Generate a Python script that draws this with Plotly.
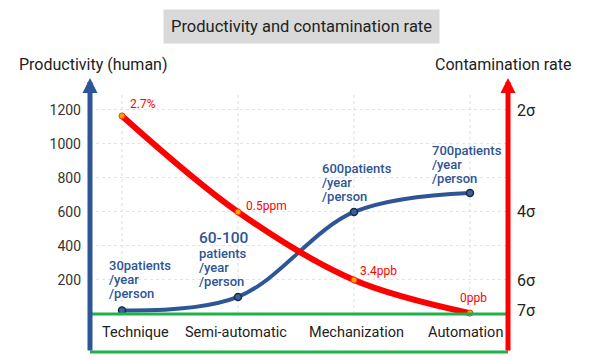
import plotly.graph_objects as go

categories = ["Technique", "Semi-automatic", "Mechanization", "Automation"]
productivity = [20, 100, 600, 712]
contamination = [1165, 600, 200, 5]
prod_labels = [["30patients", "/year", "/person"],
               ["60-100", "patients", "/year", "/person"],
               ["600patients", "/year", "/person"],
               ["700patients", "/year", "/person"]]
cont_labels = ["2.7%", "0.5ppm", "3.4ppb", "0ppb"]
left_ticks = [200, 400, 600, 800, 1000, 1200]
right_tickvals = [1200, 606, 200, 18]
right_ticktext = ["2σ", "4σ", "6σ", "7σ"]

BLUE = "#2e5596"
RED = "#ff0000"
GREEN = "#1fb24a"
FONT = "Roboto"

x_idx = list(range(len(categories)))
yr = [-224, 1388]

fig = go.Figure()
fig.add_trace(go.Scatter(
    x=x_idx, y=productivity, mode="lines+markers",
    line=dict(color=BLUE, width=4, shape="spline", smoothing=1),
    marker=dict(size=7, color="#3d5f9e", line=dict(color="#1b2a45", width=1.5)),
    hoverinfo="skip", showlegend=False))
fig.add_trace(go.Scatter(
    x=x_idx, y=contamination, mode="lines+markers",
    line=dict(color=RED, width=6, shape="spline", smoothing=1),
    marker=dict(size=6, color="#ffa500", line=dict(color="#ff3300", width=1)),
    hoverinfo="skip", showlegend=False))
# invisible trace to create the right axis
fig.add_trace(go.Scatter(x=[x_idx[0]], y=[contamination[0]], yaxis="y2",
                         mode="markers", marker=dict(opacity=0),
                         hoverinfo="skip", showlegend=False))

shapes = []
for i in x_idx:
    shapes.append(dict(type="line", xref="x", yref="y", x0=i, x1=i, y0=0, y1=1290,
                       line=dict(color="#dddddd", width=1, dash="dot"), layer="below"))
shapes.append(dict(type="line", xref="paper", yref="paper", x0=0, x1=1, y0=0, y1=0,
                   line=dict(color=GREEN, width=3)))
shapes.append(dict(type="line", xref="paper", yref="y", x0=0, x1=1, y0=0, y1=0,
                   line=dict(color=GREEN, width=3)))

annotations = []
# axis arrows
annotations.append(dict(xref="paper", yref="paper", x=0, y=1, ax=0, ay=274,
                        showarrow=True, arrowhead=2,
                        arrowsize=0.6, arrowwidth=5, arrowcolor=BLUE, text=""))
annotations.append(dict(xref="paper", yref="paper", x=1, y=1, ax=0, ay=274,
                        showarrow=True, arrowhead=2, arrowsize=0.6, arrowwidth=5,
                        arrowcolor=RED, text=""))
# title
annotations.append(dict(xref="paper", yref="paper", x=0.505, y=1.188, xanchor="center",
                        yanchor="middle", text="Productivity and contamination rate",
                        showarrow=False, bgcolor="#d9d9d9", borderpad=7,
                        font=dict(family=FONT, size=16.5, color="#222222")))
annotations.append(dict(xref="paper", yref="paper", x=-0.1746, y=1.051, xanchor="left",
                        yanchor="middle", text="Productivity (human)", showarrow=False,
                        font=dict(family=FONT, size=16, color="#222222")))
annotations.append(dict(xref="paper", yref="paper", x=1.156, y=1.051, xanchor="right",
                        yanchor="middle", text="Contamination rate", showarrow=False,
                        font=dict(family=FONT, size=16, color="#222222")))
# category labels
cat_shift = [13, -2, 3, -4]
for i, (c, dx) in enumerate(zip(categories, cat_shift)):
    annotations.append(dict(x=i, y=0, xref="x", yref="y", text=c, showarrow=False,
                            xanchor="center", yanchor="middle", xshift=dx, yshift=-19,
                            font=dict(family=FONT, size=14.5, color="#222222")))
# blue labels, one annotation per line for tight line spacing
blue_shift = [(-15, 17), (-41, 15), (-34, 15), (-40, 14)]
for i, (lines, (dx, dy)) in enumerate(zip(prod_labels, blue_shift)):
    for k, line in enumerate(reversed(lines)):
        big = (i == 1 and k == len(lines) - 1)
        annotations.append(dict(x=i, y=productivity[i], xref="x", yref="y", text=line,
                                showarrow=False, xanchor="left", yanchor="middle",
                                xshift=dx, yshift=dy + 14.2 * k + (1 if big else 0),
                                font=dict(family=FONT, size=15.5 if big else 13,
                                          color=BLUE, weight=500)))
red_shift = [(6, 12), (6, 6), (4, 9), (-12, 15)]
for i, (t, (dx, dy)) in enumerate(zip(cont_labels, red_shift)):
    annotations.append(dict(x=i, y=contamination[i], xref="x", yref="y", text=t,
                            showarrow=False, xanchor="left", yanchor="middle",
                            xshift=dx, yshift=dy,
                            font=dict(family=FONT, size=12, color=RED)))

fig.update_layout(
    width=592, height=352,
    margin=dict(l=82, r=92, t=70, b=8),
    paper_bgcolor="white", plot_bgcolor="white",
    font=dict(family=FONT),
    xaxis=dict(range=[-0.276, 3.328], showticklabels=False,
               showline=False, showgrid=False, zeroline=False, ticks=""),
    yaxis=dict(range=yr, tickvals=left_ticks, showgrid=True, gridcolor="#e3e3e3",
               griddash="dot", zeroline=False, showline=False, ticks="",
               ticklabelstandoff=8,
               tickfont=dict(family=FONT, size=14, color="#333333")),
    yaxis2=dict(range=yr, overlaying="y", side="right", tickvals=right_tickvals,
                ticktext=right_ticktext, showgrid=False, zeroline=False,
                showline=False, ticks="", ticklabelstandoff=8,
                tickfont=dict(family=FONT, size=16, color="#222222")),
    shapes=shapes, annotations=annotations,
)

fig.write_html("out.html")
